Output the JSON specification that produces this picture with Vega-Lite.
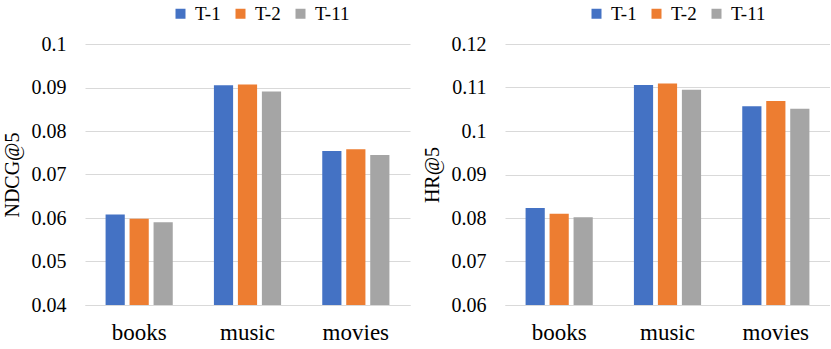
{
  "$schema": "https://vega.github.io/schema/vega-lite/v6.json",
  "padding": {"left": 2, "top": 4, "right": 0, "bottom": 0},
  "background": "white",
  "spacing": 12,
  "data": {"values": [
    {"metric": "NDCG@5", "category": "books", "method": "T-1", "value": 0.0608},
    {"metric": "NDCG@5", "category": "books", "method": "T-2", "value": 0.0598},
    {"metric": "NDCG@5", "category": "books", "method": "T-11", "value": 0.0590},
    {"metric": "NDCG@5", "category": "music", "method": "T-1", "value": 0.0905},
    {"metric": "NDCG@5", "category": "music", "method": "T-2", "value": 0.0907},
    {"metric": "NDCG@5", "category": "music", "method": "T-11", "value": 0.0891},
    {"metric": "NDCG@5", "category": "movies", "method": "T-1", "value": 0.0754},
    {"metric": "NDCG@5", "category": "movies", "method": "T-2", "value": 0.0758},
    {"metric": "NDCG@5", "category": "movies", "method": "T-11", "value": 0.0745},
    {"metric": "HR@5", "category": "books", "method": "T-1", "value": 0.0823},
    {"metric": "HR@5", "category": "books", "method": "T-2", "value": 0.0810},
    {"metric": "HR@5", "category": "books", "method": "T-11", "value": 0.0802},
    {"metric": "HR@5", "category": "music", "method": "T-1", "value": 0.1106},
    {"metric": "HR@5", "category": "music", "method": "T-2", "value": 0.1109},
    {"metric": "HR@5", "category": "music", "method": "T-11", "value": 0.1095},
    {"metric": "HR@5", "category": "movies", "method": "T-1", "value": 0.1057},
    {"metric": "HR@5", "category": "movies", "method": "T-2", "value": 0.1069},
    {"metric": "HR@5", "category": "movies", "method": "T-11", "value": 0.1051}
  ]},
  "resolve": {"legend": {"color": "independent"}},
  "hconcat": [
    {
      "width": 325,
      "height": 261,
      "transform": [{"filter": "datum.metric === 'NDCG@5'"}],
      "mark": {"type": "bar"},
      "encoding": {
        "x": {"field": "category", "type": "nominal", "sort": ["books", "music", "movies"],
              "scale": {"paddingInner": 0.38, "paddingOuter": 0.19},
              "axis": {"title": null, "labelAngle": 0}},
        "xOffset": {"field": "method", "type": "nominal", "sort": ["T-1", "T-2", "T-11"],
                    "scale": {"paddingInner": 0.2, "paddingOuter": 0}},
        "y": {"field": "value", "type": "quantitative",
              "scale": {"domain": [0.04, 0.1], "nice": false, "zero": false},
              "axis": {"title": "NDCG@5", "values": [0.04, 0.05, 0.06, 0.07, 0.08, 0.09, 0.1], "format": ".2~f"}},
        "y2": {"datum": 0.04},
        "color": {"field": "method", "type": "nominal", "sort": ["T-1", "T-2", "T-11"],
                  "scale": {"domain": ["T-1", "T-2", "T-11"], "range": ["#4472C4", "#ED7D31", "#A5A5A5"]},
                  "legend": {"orient": "none", "legendX": 86, "legendY": -40, "direction": "horizontal", "title": null}}
      }
    },
    {
      "width": 325,
      "height": 261,
      "transform": [{"filter": "datum.metric === 'HR@5'"}],
      "mark": {"type": "bar"},
      "encoding": {
        "x": {"field": "category", "type": "nominal", "sort": ["books", "music", "movies"],
              "scale": {"paddingInner": 0.38, "paddingOuter": 0.19},
              "axis": {"title": null, "labelAngle": 0}},
        "xOffset": {"field": "method", "type": "nominal", "sort": ["T-1", "T-2", "T-11"],
                    "scale": {"paddingInner": 0.2, "paddingOuter": 0}},
        "y": {"field": "value", "type": "quantitative",
              "scale": {"domain": [0.06, 0.12], "nice": false, "zero": false},
              "axis": {"title": "HR@5", "values": [0.06, 0.07, 0.08, 0.09, 0.1, 0.11, 0.12], "format": ".2~f"}},
        "y2": {"datum": 0.06},
        "color": {"field": "method", "type": "nominal", "sort": ["T-1", "T-2", "T-11"],
                  "scale": {"domain": ["T-1", "T-2", "T-11"], "range": ["#4472C4", "#ED7D31", "#A5A5A5"]},
                  "legend": {"orient": "none", "legendX": 82, "legendY": -40, "direction": "horizontal", "title": null}}
      }
    }
  ],
  "config": {
    "font": "Liberation Serif",
    "view": {"stroke": null},
    "axis": {
      "labelFont": "Liberation Serif", "titleFont": "Liberation Serif",
      "labelColor": "#000000", "titleColor": "#000000",
      "ticks": false, "gridColor": "#D9D9D9", "domainColor": "#D9D9D9", "gridWidth": 1.2, "domainWidth": 1.2
    },
    "axisY": {"labelFontSize": 20, "titleFontSize": 20, "titleFontWeight": "normal", "labelPadding": 19, "domain": false, "titlePadding": 9, "grid": true},
    "axisX": {"labelFontSize": 23, "labelPadding": 16, "grid": false, "domain": true},
    "legend": {
      "labelFont": "Liberation Serif", "labelFontSize": 19, "labelColor": "#000000",
      "symbolType": "square", "symbolSize": 100, "symbolStrokeWidth": 0,
      "labelOffset": 5, "columnPadding": 10
    }
  }
}
